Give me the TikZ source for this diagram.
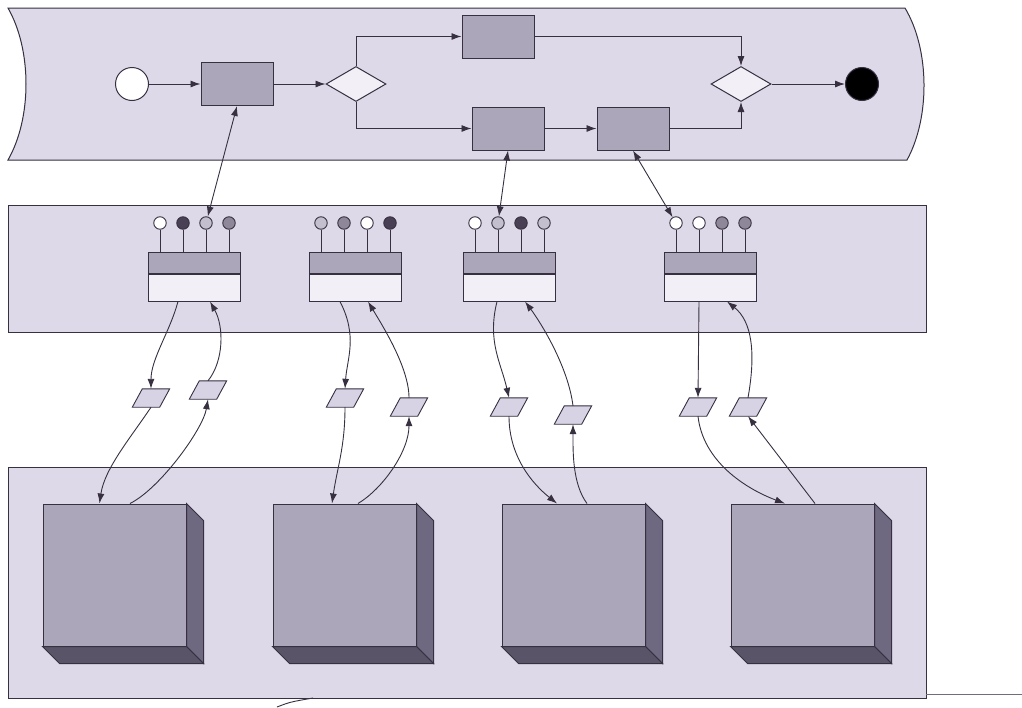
\documentclass[tikz,border=0pt]{standalone}
\usetikzlibrary{positioning,calc,shapes.geometric,arrows.meta}
\usepackage{xcolor}
\definecolor{laneFill}{HTML}{DED9E8}
\definecolor{msgFill}{HTML}{D8D3E4}
\definecolor{taskFill}{HTML}{ABA6B9}
\definecolor{lineDark}{HTML}{363040}
\definecolor{portDark}{HTML}{4A4056}
\definecolor{portMid}{HTML}{8E879A}
\definecolor{portLight}{HTML}{C4BFCE}
\definecolor{paleFill}{HTML}{F2F0F6}
\definecolor{sideFill}{HTML}{6E6880}
\definecolor{baseFill}{HTML}{5A5468}

\begin{document}
\begin{tikzpicture}[
        x=1pt, y=-1pt,
        lane/.style={draw=lineDark, fill=laneFill, line width=1pt},
        task/.style={draw=lineDark, fill=taskFill, rectangle, minimum width=72pt, minimum height=43pt, inner sep=0pt, line width=1pt},
        gate/.style={draw=lineDark, fill=paleFill, diamond, minimum width=60pt, minimum height=35pt, inner sep=0pt, line width=1pt},
        event/.style={draw=lineDark, circle, minimum size=33pt, inner sep=0pt, line width=1pt},
        ifacetop/.style={draw=lineDark, fill=taskFill, rectangle, minimum width=92pt, minimum height=21pt, inner sep=0pt, line width=1pt},
        ifacebot/.style={draw=lineDark, fill=paleFill, rectangle, minimum width=92pt, minimum height=27pt, inner sep=0pt, line width=1pt},
        port/.style={draw=lineDark, circle, minimum size=12.5pt, inner sep=0pt, line width=0.9pt},
        msg/.style={rectangle, minimum width=27pt, minimum height=18pt, inner sep=0pt}, % slanted outline drawn below
        msgbox/.style={draw=lineDark, fill=msgFill, line width=0.9pt},
        block/.style={draw=lineDark, fill=taskFill, rectangle, minimum width=143pt, minimum height=142pt, inner sep=0pt, line width=1pt},
        flow/.style={-{Latex[length=10pt,width=7pt]}, lineDark, line width=0.9pt}, % one-way arrow
        link/.style={{Latex[length=10pt,width=7pt]}-{Latex[length=10pt,width=7pt]}, lineDark, line width=0.9pt} % two-way arrow
    ]
    \useasboundingbox (0,0) rectangle (1022,707);

    % lanes
    \draw[lane] (8,8) -- (905,8) .. controls (930,50) and (930,118) .. (907,160) -- (8,160) .. controls (32,118) and (32,50) .. (8,8) -- cycle;
    \draw[lane] (8,205) rectangle (926,332);
    \draw[lane] (8,467) rectangle (926,698);
    \draw[lineDark!70, line width=0.7pt] (926,694) -- (1022,694);
    \draw[lineDark, line width=0.9pt] (277,707) .. controls (290,702) .. (313,698);

    % process
    \node[event, fill=white] (start) at (132,84) {};
    \node[task] (t1) at (237,84) {};
    \node[gate] (split) at (356,84) {};
    \node[task] (t2) at (498,36.5) {};
    \node[task] (t3) at (508,128.5) {};
    \node[task] (t4) at (633,128.5) {};
    \node[gate] (join) at (741,84) {};
    \node[event, fill=black] (stop) at (862,84) {};

    \draw[flow] (start) -- (t1);
    \draw[flow] (t1) -- (split);
    \draw[flow] (split.north) |- (t2.west);
    \draw[flow] (split.south) |- (t3.west);
    \draw[flow] (t3) -- (t4);
    \draw[flow] (t2.east) -| (join.north);
    \draw[flow] (t4.east) -| (join.south);
    \draw[flow] (join) -- (stop);

    % interfaces
    \node[ifacetop] (c1top) at (194,262.5) {};
    \node[ifacebot, below=0pt of c1top] (c1) {};
    \node[ifacetop] (c2top) at (355,262.5) {};
    \node[ifacebot, below=0pt of c2top] (c2) {};
    \node[ifacetop] (c3top) at (509,262.5) {};
    \node[ifacebot, below=0pt of c3top] (c3) {};
    \node[ifacetop] (c4top) at (710,262.5) {};
    \node[ifacebot, below=0pt of c4top] (c4) {};

    \node[port, fill=white] (p11) at (160,223) {};
    \node[port, fill=portDark] (p12) at (183,223) {};
    \node[port, fill=portLight] (p13) at (206,223) {};
    \node[port, fill=portMid] (p14) at (229,223) {};
    \node[port, fill=portLight] (p21) at (321,223) {};
    \node[port, fill=portMid] (p22) at (344,223) {};
    \node[port, fill=white] (p23) at (367,223) {};
    \node[port, fill=portDark] (p24) at (390,223) {};
    \node[port, fill=white] (p31) at (475,223) {};
    \node[port, fill=portLight] (p32) at (498,223) {};
    \node[port, fill=portDark] (p33) at (521,223) {};
    \node[port, fill=portLight] (p34) at (544,223) {};
    \node[port, fill=white] (p41) at (676,223) {};
    \node[port, fill=white] (p42) at (699,223) {};
    \node[port, fill=portMid] (p43) at (722,223) {};
    \node[port, fill=portMid] (p44) at (745,223) {};

    \foreach \c in {1,2,3,4}
        \foreach \p in {1,2,3,4}
            \draw[lineDark, line width=0.9pt] (p\c\p.south) -- (p\c\p.south |- c\c top.north);

    \draw[link] (t1.south) -- (p13);
    \draw[link] (t3.south) -- (p32);
    \draw[link] (t4.south) -- (p41);

    % messages
    \node[msg] (m1) at (151,398) {};
    \node[msg] (m2) at (208,390) {};
    \node[msg] (m3) at (345,398) {};
    \node[msg] (m4) at (409,407) {};
    \node[msg] (m5) at (509,407) {};
    \node[msg] (m6) at (573,415) {};
    \node[msg] (m7) at (698,407) {};
    \node[msg] (m8) at (748,407) {};
    \foreach \m in {m1,m2,m3,m4,m5,m6,m7,m8}
        \draw[msgbox] ($(\m.south west)+(-5,0)$) -- ($(\m.south east)+(-5,0)$) -- ($(\m.north east)+(5,0)$) -- ($(\m.north west)+(5,0)$) -- cycle;

    % blocks
    \node[block] (b1) at (114.5,575) {};
    \node[block] (b2) at (344.5,575) {};
    \node[block] (b3) at (573.5,575) {};
    \node[block] (b4) at (802.5,575) {};
    \foreach \b in {b1,b2,b3,b4} {
        \draw[draw=lineDark, fill=sideFill, line width=1pt] (\b.north east) -- ++(17,17) -- ($(\b.south east)+(17,17)$) -- (\b.south east) -- cycle;
        \draw[draw=lineDark, fill=baseFill, line width=1pt] (\b.south west) -- (\b.south east) -- ++(17,17) -- ($(\b.south west)+(17,17)$) -- cycle;
    }

    % calls
    \draw[flow] (c1.south) ++(-16,0) .. controls +(-8,30) and +(0,-30) .. (m1.north);
    \draw[flow] (m1.south) .. controls +(-20,30) and +(5,-35) .. ($(b1.north)+(-15,0)$);
    \draw[flow] (b1.north) ++(15.5,0) .. controls +(30,-15) and +(-5,30) .. (m2.south);
    \draw[flow] (m2.north) .. controls +(16,-20) and +(14,25) .. ($(c1.south)+(16,0)$);

    \draw[flow] (c2.south) ++(-15,0) .. controls +(18,35) and +(2,-30) .. (m3.north);
    \draw[flow] (m3.south) .. controls +(0,40) and +(5,-35) .. ($(b2.north)+(-12.5,0)$);
    \draw[flow] (b2.north) ++(13.5,0) .. controls +(25,-15) and +(0,35) .. (m4.south);
    \draw[flow] (m4.north) .. controls +(0,-30) and +(15,25) .. ($(c2.south)+(13,0)$);

    \draw[flow] (c3.south) ++(-12,0) .. controls +(-10,40) and +(-8,-35) .. (m5.north);
    \draw[flow] (m5.south) .. controls +(0,40) and +(-25,-20) .. ($(b3.north)+(-16.5,0)$);
    \draw[flow] (b3.north) ++(13.5,0) .. controls +(-15,-20) and +(0,25) .. (m6.south);
    \draw[flow] (m6.north) .. controls +(-5,-40) and +(15,20) .. ($(c3.south)+(16,0)$);

    \draw[flow] (c4.south) ++(-11,0) -- (m7.north);
    \draw[flow] (m7.south) .. controls +(5,45) and +(-40,-15) .. ($(b4.north)+(-17.5,0)$);
    \draw[flow] (b4.north) ++(12.5,0) -- (m8.south);
    \draw[flow] (m8.north) .. controls +(8,-45) and +(25,20) .. ($(c4.south)+(17,0)$);
\end{tikzpicture}
\end{document}
